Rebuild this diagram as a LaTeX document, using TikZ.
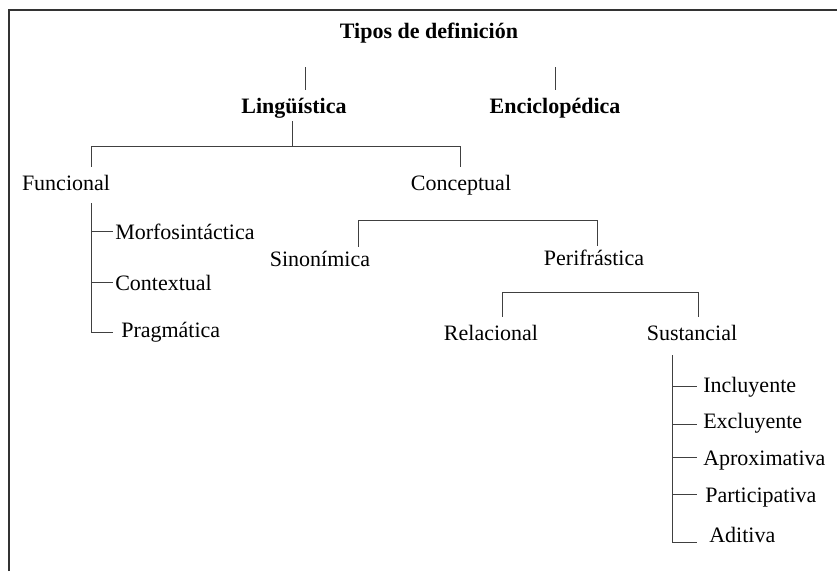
\documentclass[tikz,border=0pt]{standalone}
\usepackage{fontspec}
\setmainfont{Liberation Serif}
\usetikzlibrary{positioning}

\begin{document}
\begin{tikzpicture}[
    x=0.75pt, y=-0.75pt,
    font=\fontsize{16.5}{20}\selectfont,
    head/.style={anchor=base, inner xsep=0pt, inner ysep=6pt, text height=11.2pt, text depth=0pt},
    item/.style={anchor=base west, inner sep=0pt, text height=11.2pt, text depth=0pt},
    link/.style={draw=black!75, line width=0.75pt},
    frame/.style={draw=black!80, line width=1.5pt}
]
\useasboundingbox (0,0) rectangle (837,571);
\draw[frame] (9,571) -- (9,10) -- (837,10);

% top levels
\node[head, font=\fontsize{16.5}{20}\selectfont\bfseries] (tipos) at (429,38) {Tipos de definición};
\node[head, font=\fontsize{16.5}{20}\selectfont\bfseries] (ling) at (294,113) {Lingüística};
\node[head, font=\fontsize{16.5}{20}\selectfont\bfseries] (enci) at (555,113) {Enciclopédica};

\node[head] (func) at (66,190) {Funcional};
\node[head] (conc) at (461,190) {Conceptual};
\node[head, inner ysep=3pt] (sinon) at (320,266) {Sinonímica};
\node[head, inner ysep=3pt] (perif) at (594,265) {Perifrástica};
\node[head] (rel) at (491,340) {Relacional};
\node[head] (sust) at (692,340) {Sustancial};

% lists
\node[item] (morf) at (115,239) {Morfosintáctica};
\node[item] (cont) at (115,290) {Contextual};
\node[item] (prag) at (121,337) {Pragmática};

\node[item] (incl) at (703,392) {Incluyente};
\node[item] (excl) at (703,428) {Excluyente};
\node[item] (aprox) at (703,465) {Aproximativa};
\node[item] (part) at (705,502) {Participativa};
\node[item] (adit) at (709,542) {Aditiva};

% joints
\coordinate (lingtop) at (305,67);
\coordinate (encitop) at (555,67);
\coordinate (lbarL) at (91,146);
\coordinate (lbarM) at (292,146);
\coordinate (lbarR) at (460,146);
\coordinate (cbarL) at (358,220);
\coordinate (cbarR) at (597,220);
\coordinate (pbarL) at (502,292);
\coordinate (pbarR) at (698,292);
\coordinate (flist) at (91,203);
\coordinate (slist) at (672,355);

\draw[link] (lingtop) -- (lingtop |- ling.north);
\draw[link] (encitop) -- (encitop |- enci.north);
\draw[link] (lbarM |- ling.south) -- (lbarM);
\draw[link] (lbarL |- func.north) -- (lbarL) -- (lbarR) -- (lbarR |- conc.north);
\draw[link] (cbarL |- sinon.north) -- (cbarL) -- (cbarR) -- (cbarR |- perif.north);
\draw[link] (pbarL |- rel.north) -- (pbarL) -- (pbarR) -- (pbarR |- sust.north);

\draw[link] (flist) -- ([yshift=3.75pt]flist |- prag.south) -- ++(22,0);
\draw[link] (flist |- morf.west) -- ++(22,0);
\draw[link] (flist |- cont.west) -- ++(22,0);

\draw[link] (slist) -- (slist |- adit.south) -- ++(25,0);
\draw[link] ([yshift=-1.5pt]slist |- incl.west) -- ++(25,0);
\draw[link] ([yshift=-3pt]slist |- excl.west) -- ++(25,0);
\draw[link] (slist |- aprox.west) -- ++(25,0);
\draw[link] (slist |- part.west) -- ++(25,0);
\end{tikzpicture}
\end{document}
